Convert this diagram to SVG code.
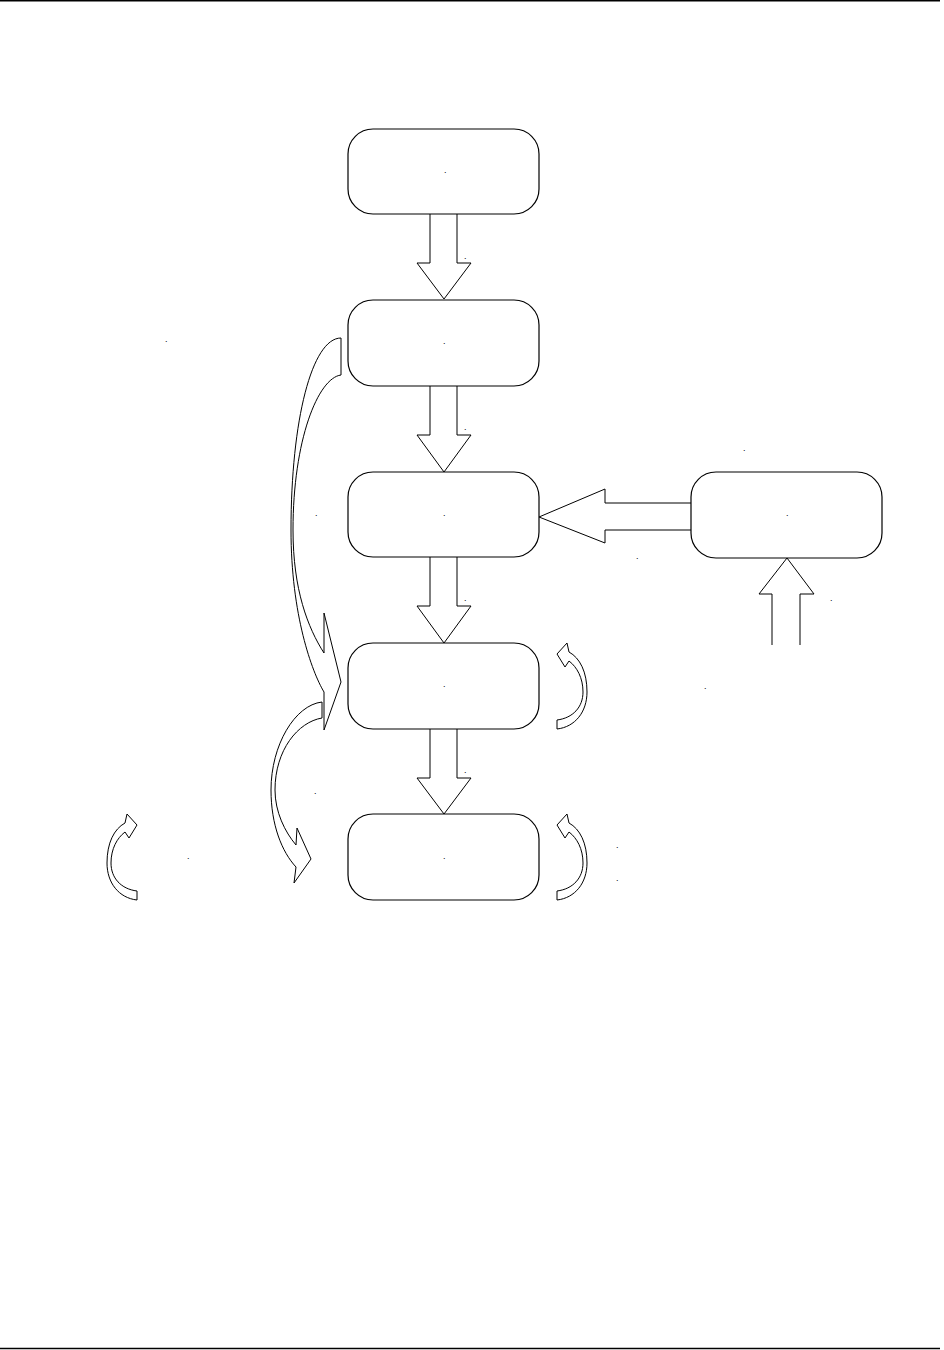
<svg xmlns="http://www.w3.org/2000/svg" width="944" height="1350" viewBox="0 0 944 1350">
<style>
.box{fill:#fff;stroke:#000;stroke-width:1.2}
.arr{fill:#fff;stroke:#000;stroke-width:1;vector-effect:non-scaling-stroke;stroke-linejoin:miter}
.rule{stroke:#000;stroke-width:1.5}
.lbl{font-family:"Liberation Sans",Arial,sans-serif;font-size:9px;fill:#000}
</style>
<defs>
<path id="hook" d="M557,729 C575,727 587,712 587,692 C587,672 580,658 569,652 L567,643 L557,654 L565,667 L569,661 C577,667 583,678 583,692 C583,707 573,718 557,720 Z"/>
</defs>
<line class="rule" x1="0" y1="0.75" x2="940" y2="0.75"/>
<line class="rule" x1="0" y1="1348.5" x2="940" y2="1348.5"/>
<g id="connectors">
<path class="arr" d="M430,214 L430,263 L417,263 L444,299 L471,263 L457,263 L457,214"/>
<path class="arr" d="M430,386 L430,435 L417,435 L444,472 L471,435 L457,435 L457,386"/>
<path class="arr" d="M430,557 L430,606 L417,606 L444,643 L471,606 L457,606 L457,557"/>
<path class="arr" d="M430,729 L430,778 L417,778 L444,814 L471,778 L457,778 L457,729"/>
<path class="arr" d="M691,503 L605,503 L605,489 L539,517 L605,543 L605,530 L691,530"/>
<path class="arr" d="M772,645 L772,594 L759,594 L787,558 L814,594 L800,594 L800,645"/>
<path class="arr" d="M341,338 C312,338 291,420 291,530 C291,615 312,672 324,692 L324,730 L341,682 L324,613 L324,653 C308,628 293,590 293,530 C293,440 318,378 341,375 Z"/>
<path class="arr" d="M322,702 C295,705 271,745 271,790 C271,825 282,852 296,867 L294,883 L311,859 L297,828 L296,845 C285,832 275,812 275,790 C275,750 298,722 322,718 Z"/>
<use href="#hook" class="arr"/>
<use href="#hook" class="arr" transform="translate(0,171)"/>
<use href="#hook" class="arr" transform="translate(694,171) scale(-1,1)"/>
<text class="lbl" x="464" y="258.5">.</text>
<text class="lbl" x="464" y="429.5">.</text>
<text class="lbl" x="464" y="600.5">.</text>
<text class="lbl" x="464" y="772.5">.</text>
<text class="lbl" x="315" y="515.5">.</text>
<text class="lbl" x="314" y="793.5">.</text>
<text class="lbl" x="636" y="558.5">.</text>
<text class="lbl" x="830" y="600.5">.</text>
<text class="lbl" x="743" y="450.5">.</text>
<text class="lbl" x="704" y="688.5">.</text>
<text class="lbl" x="165" y="341.5">.</text>
<text class="lbl" x="187" y="858.5">.</text>
<text class="lbl" x="616" y="847.5">.</text>
<text class="lbl" x="616" y="880.5">.</text>
</g>
<g id="node1"><rect class="box" x="348" y="129" width="191" height="85" rx="25"/><text class="lbl" x="444" y="172.5">.</text></g>
<g id="node2"><rect class="box" x="348" y="300" width="191" height="86" rx="25"/><text class="lbl" x="443" y="343.5">.</text></g>
<g id="node3"><rect class="box" x="348" y="472" width="191" height="85" rx="25"/><text class="lbl" x="443" y="515.5">.</text></g>
<g id="node4"><rect class="box" x="348" y="643" width="191" height="86" rx="25"/><text class="lbl" x="443" y="686.5">.</text></g>
<g id="node5"><rect class="box" x="348" y="814" width="191" height="86" rx="25"/><text class="lbl" x="443" y="858.5">.</text></g>
<g id="node6"><rect class="box" x="691" y="472" width="191" height="86" rx="25"/><text class="lbl" x="786" y="515.5">.</text></g>
</svg>
